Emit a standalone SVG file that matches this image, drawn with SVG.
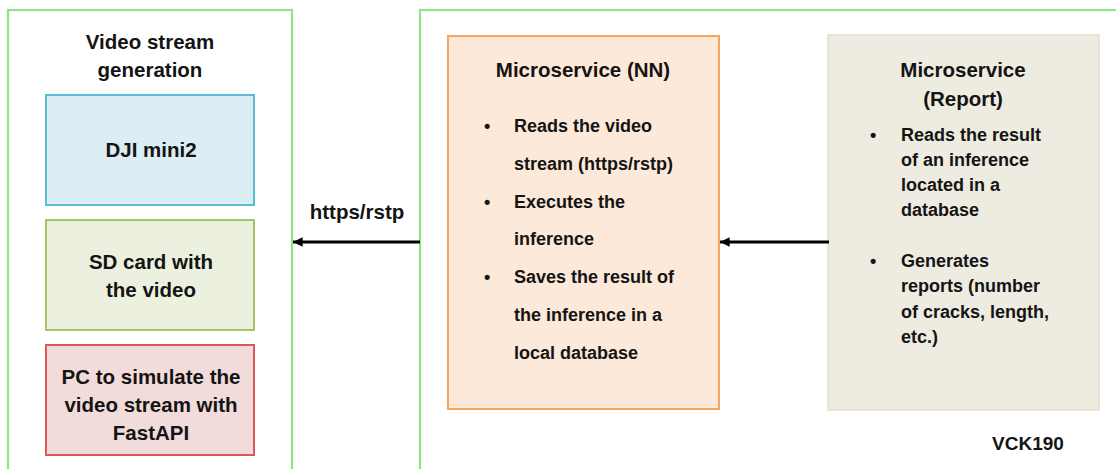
<svg xmlns="http://www.w3.org/2000/svg" width="1116" height="469" viewBox="0 0 1116 469">
<style>
text{font-family:"Liberation Sans",Arial,sans-serif;font-weight:bold;fill:#141414}
.t{font-size:20.5px;text-anchor:middle}
.b{font-size:18px}
.frame{fill:none;stroke:#8fe388;stroke-width:2.2}
.conn{stroke:#000;stroke-width:3;fill:none}
</style>
<defs>
<marker id="ah" viewBox="0 0 10 10" refX="10" refY="5" markerWidth="3.6" markerHeight="3.2" orient="auto" markerUnits="strokeWidth">
<path d="M10,5 L0,0 L0,10 Z" fill="#000"/>
</marker>
</defs>
<rect width="1116" height="469" fill="#fff"/>
<g id="video-gen">
<rect class="frame" x="8" y="10" width="284" height="480"/>
<text class="t" x="150" y="49">Video stream</text>
<text class="t" x="150" y="77">generation</text>
</g>
<g id="dji">
<rect x="46" y="95" width="208" height="110" fill="#dbeef3" stroke="#5bbcd8" stroke-width="2"/>
<text class="t" x="151" y="157">DJI mini2</text>
</g>
<g id="sdcard">
<rect x="46" y="220" width="208" height="110" fill="#ebf1de" stroke="#a5c662" stroke-width="2"/>
<text class="t" x="151" y="269">SD card with</text>
<text class="t" x="151" y="297">the video</text>
</g>
<g id="pc">
<rect x="46" y="345" width="208" height="110" fill="#f2dcdb" stroke="#d9595a" stroke-width="2"/>
<text class="t" x="151" y="384">PC to simulate the</text>
<text class="t" x="151" y="412">video stream with</text>
<text class="t" x="151" y="440">FastAPI</text>
</g>
<g id="vck190">
<rect class="frame" x="420" y="10" width="720" height="480"/>
<text x="1028" y="450" style="font-size:19px;text-anchor:middle">VCK190</text>
</g>
<g id="ms-nn">
<rect x="448" y="36" width="271" height="373" fill="#fde9d9" stroke="#f7a45e" stroke-width="2"/>
<text class="t" x="583" y="77">Microservice (NN)</text>
<text class="b" x="484" y="132">•</text>
<text class="b" x="514" y="132">Reads the video</text>
<text class="b" x="514" y="170">stream (https/rstp)</text>
<text class="b" x="484" y="208">•</text>
<text class="b" x="514" y="208">Executes the</text>
<text class="b" x="514" y="245">inference</text>
<text class="b" x="484" y="283">•</text>
<text class="b" x="514" y="283">Saves the result of</text>
<text class="b" x="514" y="321">the inference in a</text>
<text class="b" x="514" y="359">local database</text>
</g>
<g id="ms-report">
<rect x="828" y="35" width="271" height="375" fill="#eeece1" stroke="#e2dfcd" stroke-width="1.5"/>
<text class="t" x="963" y="77">Microservice</text>
<text class="t" x="963" y="106">(Report)</text>
<text class="b" x="870" y="141">•</text>
<text class="b" x="901" y="141">Reads the result</text>
<text class="b" x="901" y="166">of an inference</text>
<text class="b" x="901" y="191">located in a</text>
<text class="b" x="901" y="216">database</text>
<text class="b" x="870" y="267">•</text>
<text class="b" x="901" y="267">Generates</text>
<text class="b" x="901" y="292">reports (number</text>
<text class="b" x="901" y="318">of cracks, length,</text>
<text class="b" x="901" y="343">etc.)</text>
</g>
<g id="connectors">
<line class="conn" x1="420" y1="242" x2="293" y2="242" marker-end="url(#ah)"/>
<text x="357" y="219" style="font-size:20.5px;text-anchor:middle">https/rstp</text>
<line class="conn" x1="829" y1="242" x2="720" y2="242" marker-end="url(#ah)"/>
</g>
</svg>
